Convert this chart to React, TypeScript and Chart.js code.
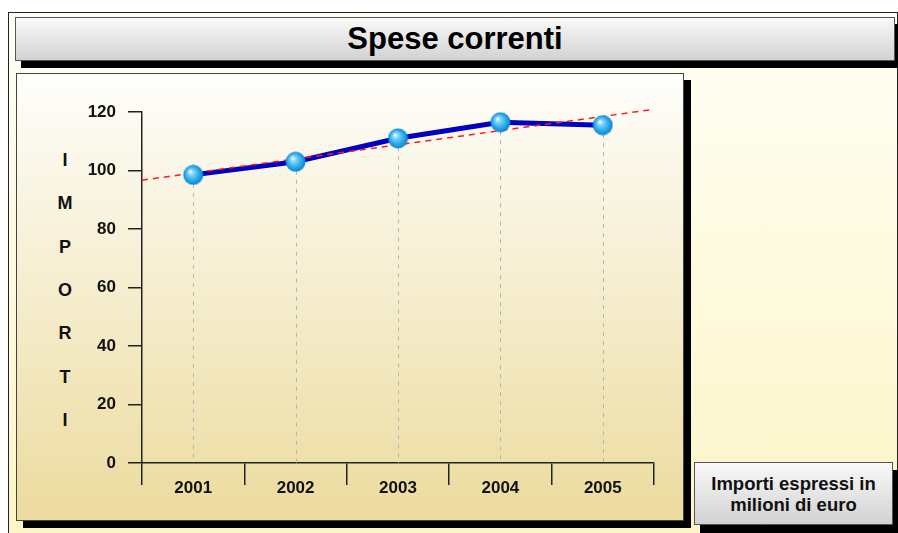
import React, { useEffect, useRef } from 'react';
import { Chart, registerables } from 'chart.js';

Chart.register(...registerables);

// ---- data ----
const years = ['2001', '2002', '2003', '2004', '2005'];
const spese = [98.5, 103, 111, 116.5, 115.5];
const trendX = [-0.5, 4.5];
const trendY = [96.7, 120.9];
const yMin = 0;
const yMax = 120;
const yStep = 20;
const axisLetters = ['I', 'M', 'P', 'O', 'R', 'T', 'I'];
const titleText = 'Spese correnti';
const noteLines = ['Importi espressi in', 'milioni di euro'];

const FONT = '"Liberation Sans", Arial, sans-serif';

function makeSphere(): HTMLCanvasElement {
  const size = 21;
  const c = document.createElement('canvas');
  c.width = size;
  c.height = size;
  const g = c.getContext('2d')!;
  const r = size / 2;
  const grad = g.createRadialGradient(r - 3, r - 3.5, 0.5, r, r, r);
  grad.addColorStop(0, '#f2fbff');
  grad.addColorStop(0.22, '#86d6fa');
  grad.addColorStop(0.65, '#28aaea');
  grad.addColorStop(1, '#0b7cc8');
  g.fillStyle = grad;
  g.beginPath();
  g.arc(r, r, r - 0.5, 0, Math.PI * 2);
  g.fill();
  return c;
}

const dropLines = {
  id: 'dropLines',
  beforeDatasetsDraw(chart: any) {
    const meta = chart.getDatasetMeta(2);
    if (!meta || !meta.data) return;
    const ctx = chart.ctx;
    const bottom = chart.chartArea.bottom;
    ctx.save();
    ctx.strokeStyle = '#b4b4b4';
    ctx.lineWidth = 1;
    ctx.setLineDash([4, 5]);
    meta.data.forEach((pt: any) => {
      const x = Math.round(pt.x) + 0.5;
      ctx.beginPath();
      ctx.moveTo(x, pt.y);
      ctx.lineTo(x, bottom);
      ctx.stroke();
    });
    ctx.restore();
  },
};

function ChartCanvas() {
  const ref = useRef<HTMLCanvasElement>(null);
  useEffect(() => {
    const canvas = ref.current!;
    const sphere = makeSphere();
    const tickFont = { family: FONT, size: 17, weight: 'bold' as const };
    const chart = new Chart(canvas, {
      type: 'line',
      data: {
        labels: years,
        datasets: [
          {
            label: 'Spese',
            data: spese,
            borderColor: '#0000c0',
            borderWidth: 5,
            pointRadius: 0,
            tension: 0,
            order: 3,
            xAxisID: 'x',
          },
          {
            label: 'Tendenza',
            data: trendX.map((x, i) => ({ x, y: trendY[i] })),
            borderColor: '#ff1a1a',
            borderWidth: 1.5,
            borderDash: [6, 5],
            pointRadius: 0,
            order: 2,
            xAxisID: 'xt',
            clip: false,
          },
          {
            label: 'Punti',
            data: spese,
            showLine: false,
            pointStyle: sphere as any,
            pointRadius: 10,
            order: 1,
            xAxisID: 'x',
          },
        ] as any,
      },
      options: {
        responsive: false,
        animation: false,
        layout: { padding: { left: 0, top: 39, right: 30, bottom: 0 } },
        plugins: {
          legend: { display: false },
          tooltip: { enabled: false },
          title: { display: false },
        },
        scales: {
          x: {
            type: 'category',
            offset: true,
            grid: {
              offset: true,
              drawOnChartArea: false,
              drawTicks: true,
              tickLength: 22,
              color: '#222',
              lineWidth: 1.5,
            },
            border: { display: true, color: '#222', width: 1.5 },
            ticks: { font: tickFont, color: '#111', padding: -7, maxRotation: 0 },
            afterFit: (s: any) => {
              s.height = 58;
            },
          },
          xt: {
            type: 'linear',
            display: false,
            min: trendX[0],
            max: trendX[1],
          },
          y: {
            min: yMin,
            max: yMax,
            ticks: { stepSize: yStep, font: tickFont, color: '#111', padding: 12 },
            grid: {
              drawOnChartArea: false,
              drawTicks: true,
              tickLength: 14,
              color: '#222',
              lineWidth: 1.5,
            },
            border: { display: true, color: '#222', width: 1.5 },
            afterFit: (s: any) => {
              s.width = 126;
            },
          },
        } as any,
      },
      plugins: [dropLines],
    });
    return () => chart.destroy();
  }, []);
  return (
    <canvas
      ref={ref}
      width={668}
      height={448}
      style={{ position: 'absolute', left: 16, top: 73, width: 668, height: 448 }}
    />
  );
}

export default function App() {
  return (
    <div
      style={{
        position: 'fixed',
        left: 0,
        top: 0,
        width: 898,
        height: 533,
        overflow: 'hidden',
        background: '#ffffff',
        fontFamily: FONT,
      }}
    >
      {/* outer frame */}
      <div
        style={{
          position: 'absolute',
          left: 8,
          top: 12,
          width: 888,
          height: 530,
          border: '1px solid #222',
          background: 'linear-gradient(#fffff6, #fcf5c6)',
        }}
      />
      {/* title box */}
      <div
        style={{
          position: 'absolute',
          left: 15,
          top: 17,
          width: 878,
          height: 42,
          border: '1px solid #555',
          background: 'linear-gradient(#f9f9f9, #d2d2d2)',
          boxShadow: '6px 7px 0 #000',
          display: 'flex',
          alignItems: 'center',
          justifyContent: 'center',
          fontWeight: 'bold',
          fontSize: 31,
          color: '#000',
        }}
      >
        {titleText}
      </div>
      {/* chart panel */}
      <div
        style={{
          position: 'absolute',
          left: 16,
          top: 73,
          width: 666,
          height: 446,
          border: '1px solid #444',
          background: 'linear-gradient(#fefefb, #ecdb9e)',
          boxShadow: '7px 7px 0 #000',
        }}
      />
      {/* y axis title letters */}
      {axisLetters.map((ch, i) => (
        <div
          key={i}
          style={{
            position: 'absolute',
            left: 45,
            width: 40,
            top: 160 + i * 43.3 - 11,
            height: 22,
            lineHeight: '22px',
            textAlign: 'center',
            fontWeight: 'bold',
            fontSize: 18,
            color: '#111',
          }}
        >
          {ch}
        </div>
      ))}
      <ChartCanvas />
      {/* note box */}
      <div
        style={{
          position: 'absolute',
          left: 694,
          top: 462,
          width: 197,
          height: 61,
          border: '1px solid #555',
          background: 'linear-gradient(#f9f9f9, #d2d2d2)',
          boxShadow: '6px 8px 0 #000',
          display: 'flex',
          flexDirection: 'column',
          alignItems: 'center',
          justifyContent: 'center',
          fontWeight: 'bold',
          fontSize: 18.5,
          lineHeight: '21px',
          color: '#111',
        }}
      >
        {noteLines.map((l, i) => (
          <div key={i} style={{ whiteSpace: 'nowrap' }}>{l}</div>
        ))}
      </div>
    </div>
  );
}
